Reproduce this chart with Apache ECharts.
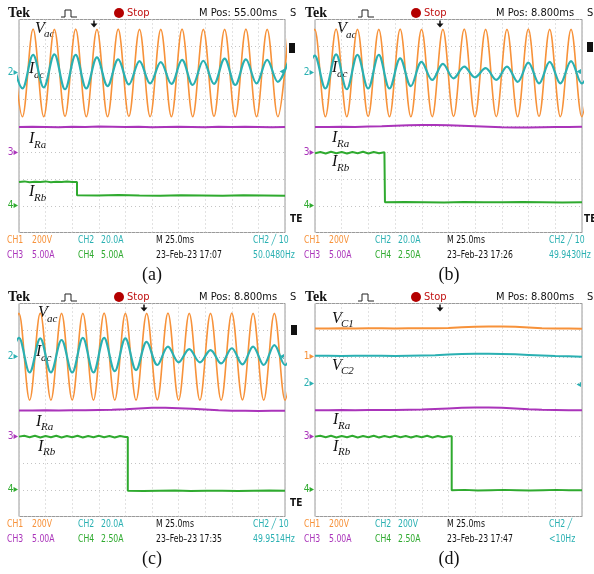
<!DOCTYPE html>
<meta charset="utf-8">
<title>Scope captures</title>
<style>
body { margin: 0; background: #fff; }
#main { width: 594px; height: 574px; }
</style>
<body>
<div id="main"></div>
<script src="https://cdn.jsdelivr.net/npm/echarts@6/dist/echarts.min.js"></script>
<script>
// all values are in screen divisions (x: 0..10 div, y: 0..8 div from bottom)
var HALF = 0.4;   // half period of the 50 Hz waves at 25 ms/div
var RIP = 0.2;    // spacing of ripple samples on I_Rb before the step
var STEP = 0.5;   // spacing of samples for the slow traces

// (a)
var vacT0A = -0.27;
var vacA = [7.63,4.35,7.64,4.35,7.63,4.36,7.64,4.35,7.63,4.35,7.64,4.36,7.63,4.35,7.63,4.35,7.64,4.35,7.63,4.36,7.63,4.35,7.64,4.35,7.63,4.35,7.63];
var iacA = [6.6,5.41,6.67,5.45,6.69,5.38,6.67,5.41,6.58,5.5,6.5,5.56,6.44,5.6,6.4,5.58,6.48,5.54,6.45,5.58,6.53,5.54,6.5,5.6,6.48,5.66,6.46];
var iraA = [3.96,3.97,3.96,3.95,3.97,3.96,3.98,3.97,3.96,3.97,3.95,3.96,3.97,3.96,3.95,3.97,3.96,3.97,3.96,3.95,3.96];
var irbPreA = [1.9,1.92,1.89,1.91,1.9,1.92,1.89,1.91,1.9,1.92,1.9];
var irbStepA = 2.18;
var irbPostA = [1.4,1.39,1.41,1.39,1.38,1.4,1.39,1.38,1.4,1.39,1.38];

// (b)
var vacT0B = -0.41;
var vacB = [4.35,7.63,4.35,7.64,4.35,7.63,4.36,7.63,4.35,7.64,4.35,7.63,4.35,7.63,4.36,7.64,4.35,7.63,4.35,7.63,4.35,7.64,4.36,7.63,4.35,7.63,4.35,7.63];
var iacB = [5.41,6.64,5.41,6.69,5.38,6.67,5.41,6.67,5.41,6.54,5.5,6.41,5.73,6.33,5.79,6.23,5.83,6.17,5.73,6.23,5.66,6.38,5.6,6.41,5.6,6.44,5.6,6.44];
var iraB = [3.96,3.96,3.97,3.96,3.98,3.99,4.01,4.03,4.04,4.04,4.03,4.01,3.99,3.97,3.95,3.94,3.94,3.95,3.96,3.96,3.97];
var irbPreB = [2.98,3.02,2.97,3.03,2.98,3.02,2.97,3.02,2.98,3.03,2.97,3.02,2.98,3.01];
var irbStepB = 2.62;
var irbPostB = [1.14,1.15,1.14,1.13,1.15,1.14,1.14,1.15,1.14,1.13,1.14];

// (c)
var vacT0C = -0.4;
var vacC = [4.37,7.63,4.37,7.64,4.37,7.63,4.38,7.63,4.37,7.64,4.37,7.63,4.37,7.63,4.38,7.64,4.37,7.63,4.37,7.63,4.37,7.64,4.38,7.63,4.37,7.63,4.37,7.63];
var iacC = [5.41,6.71,5.41,6.69,5.41,6.63,5.41,6.71,5.41,6.71,5.46,6.69,5.5,6.56,5.69,6.38,5.79,6.29,5.79,6.25,5.75,6.32,5.71,6.38,5.69,6.44,5.69,6.44];
var iraC = [3.98,3.98,3.99,3.98,3.99,3.99,4.0,4.01,4.03,4.06,4.08,4.08,4.07,4.05,4.02,3.99,3.97,3.97,3.96,3.97,3.97];
var irbPreC = [3.0,3.03,2.98,3.03,2.97,3.02,2.98,3.03,2.97,3.02,2.98,3.03,2.97,3.02,2.98,3.03,2.98,3.02,2.97,3.02,2.99];
var irbStepC = 4.09;
var irbPostC = [0.97,0.96,0.97,0.98,0.96,0.97,0.97,0.96,0.97,0.98,0.97];

// (d)
var vc1D = [7.06,7.06,7.07,7.06,7.07,7.07,7.06,7.07,7.07,7.07,7.08,7.11,7.13,7.14,7.14,7.13,7.1,7.07,7.06,7.06,7.05];
var vc2D = [6.04,6.04,6.03,6.04,6.04,6.04,6.03,6.04,6.05,6.06,6.08,6.1,6.11,6.11,6.1,6.09,6.07,6.05,6.03,6.02,6.0];
var iraD = [3.99,3.99,4.0,3.99,4.0,4.0,4.0,4.01,4.02,4.04,4.06,4.08,4.09,4.09,4.08,4.06,4.03,4.01,4.0,3.99,3.99];
var irbPreD = [3.0,3.03,2.98,3.03,2.97,3.02,2.98,3.03,2.97,3.02,2.98,3.03,2.97,3.02,2.98,3.03,2.98,3.02,2.97,3.02,2.98,3.03,2.97,3.02,2.98,3.01];
var irbStepD = 5.12;
var irbPostD = [0.99,1.0,0.98,0.99,1.0,0.99,0.98,0.99,1.0,0.99,0.99];

// texts
var captions = ['(a)', '(b)', '(c)', '(d)'];
var mpos = ['M Pos: 55.00ms', 'M Pos: 8.800ms', 'M Pos: 8.800ms', 'M Pos: 8.800ms'];
var ch2Scale = ['20.0A', '20.0A', '20.0A', '200V'];
var ch4Scale = ['5.00A', '2.50A', '2.50A', '2.50A'];
var dates = ['23\u2013Feb\u201323 17:07', '23\u2013Feb\u201323 17:26', '23\u2013Feb\u201323 17:35', '23\u2013Feb\u201323 17:47'];
var trigText = ['CH2 \u2571 10', 'CH2 \u2571 10', 'CH2 \u2571 10', 'CH2 \u2571'];
var freqs = ['50.0480Hz', '49.9430Hz', '49.9514Hz', '<10Hz'];

var ORANGE = '#F7923A', TEAL = '#2AB0B2', PURPLE = '#AA34BA', GREEN = '#2FAA2F';
var NARROW = '"Liberation Sans Narrow", "DejaVu Sans Condensed", sans-serif';
var SERIF = '"Liberation Serif", "DejaVu Serif", serif';
var SINE = 0.36;  // bezier smoothing that gives a sine-like curve through peaks

function wave(t0, vals) {
  return vals.map(function (v, i) { return [t0 + i * HALF, v]; });
}
function slow(vals) {
  return vals.map(function (v, i) { return [i * STEP, v]; });
}
function stepTrace(pre, tStep, post) {
  var pts = pre.map(function (v, i) { return [i * RIP, v]; });
  pts.push([tStep, pre[pre.length - 1]]);
  var n = post.length - 1;
  post.forEach(function (v, i) { pts.push([tStep + (10 - tStep) * i / n, v]); });
  return pts;
}

// layout of the four screens (px)
var screens = [
  { left: 19, top: 19.5, width: 266, height: 213, ox: 0, oy: 0 },
  { left: 315, top: 19.5, width: 267, height: 213, ox: 297, oy: 0 },
  { left: 19, top: 303.5, width: 266, height: 213, ox: 0, oy: 284 },
  { left: 315, top: 303.5, width: 267, height: 213, ox: 297, oy: 284 }
];
var markers = [
  { 6: ['2', 't'], 3: ['3', 'p'], 1: ['4', 'g'] },
  { 6: ['2', 't'], 3: ['3', 'p'], 1: ['4', 'g'] },
  { 6: ['2', 't'], 3: ['3', 'p'], 1: ['4', 'g'] },
  { 6: ['1', 'o'], 5: ['2', 't'], 3: ['3', 'p'], 1: ['4', 'g'] }
];

var grids = [], xAxes = [], yAxes = [], series = [], g = [];
var dotted = { color: '#c4c4c4', width: 1, type: [1, 3] };

screens.forEach(function (s, i) {
  grids.push({ left: s.left, top: s.top, width: s.width, height: s.height, show: true,
    borderColor: '#9a9a9a', borderWidth: 1, backgroundColor: '#fff' });
  xAxes.push({ type: 'value', gridIndex: i, min: 0, max: 10, interval: 1,
    axisLine: { show: false }, axisTick: { show: false }, axisLabel: { show: false },
    splitLine: { show: true, lineStyle: dotted } });
  yAxes.push({ type: 'value', gridIndex: i, min: 0, max: 8, interval: 1,
    axisLine: { show: false }, axisTick: { show: false },
    splitLine: { show: true, lineStyle: dotted },
    axisLabel: { margin: 1, formatter: (function (m) {
      return function (v) { return m[v] ? '{' + m[v][1] + '|' + m[v][0] + '\u25B8}' : ''; };
    })(markers[i]),
    rich: {
      o: { color: ORANGE, fontSize: 10, fontFamily: NARROW },
      t: { color: TEAL, fontSize: 10, fontFamily: NARROW },
      p: { color: PURPLE, fontSize: 10, fontFamily: NARROW },
      g: { color: GREEN, fontSize: 10, fontFamily: NARROW }
    } } });
});

function line(i, data, color, width, smooth) {
  series.push({ type: 'line', xAxisIndex: i, yAxisIndex: i, data: data, smooth: smooth,
    showSymbol: false, symbol: 'none', clip: true, silent: true,
    lineStyle: { color: color, width: width } });
}

line(0, wave(vacT0A, vacA), ORANGE, 1.6, SINE);
line(0, wave(vacT0A, iacA), TEAL, 2.2, SINE);
line(0, slow(iraA), PURPLE, 2, false);
line(0, stepTrace(irbPreA, irbStepA, irbPostA), GREEN, 2, false);

line(1, wave(vacT0B, vacB), ORANGE, 1.6, SINE);
line(1, wave(vacT0B, iacB), TEAL, 2.2, SINE);
line(1, slow(iraB), PURPLE, 2, false);
line(1, stepTrace(irbPreB, irbStepB, irbPostB), GREEN, 2, false);

line(2, wave(vacT0C, vacC), ORANGE, 1.6, SINE);
line(2, wave(vacT0C, iacC), TEAL, 2.2, SINE);
line(2, slow(iraC), PURPLE, 2, false);
line(2, stepTrace(irbPreC, irbStepC, irbPostC), GREEN, 2, false);

line(3, slow(vc1D), ORANGE, 2, false);
line(3, slow(vc2D), TEAL, 2, false);
line(3, slow(iraD), PURPLE, 2, false);
line(3, stepTrace(irbPreD, irbStepD, irbPostD), GREEN, 2, false);

function txt(x, y, text, font, color, align, sx) {
  g.push({ type: 'text', x: x, y: y, scaleX: sx || 1, silent: true,
    style: { text: text, font: font, fill: color, textAlign: align || 'left', textVerticalAlign: 'middle' } });
}
function sig(x, y, main, sub) {
  txt(x, y, main, 'italic 16px ' + SERIF, '#111');
  txt(x + (main === 'V' ? 9 : 5), y + 6, sub, 'italic 11px ' + SERIF, '#111');
}

var trigX = [94, 440, 144, 440];
var sBox = [[289, 43], [587, 42], [291, 325], null];
var teArrowY = [71.7, 71.7, 356, 384];
var FOOT = '10px ' + NARROW;
var SQ = 0.86; // footer text is condensed on the scope

screens.forEach(function (s, i) {
  var ox = s.ox, oy = s.oy;
  // header
  txt(8 + ox, 13 + oy, 'Tek', 'bold 14px ' + SERIF, '#111');
  g.push({ type: 'polyline', silent: true, shape: { points: [[61 + ox, 17 + oy], [65 + ox, 17 + oy], [65 + ox, 10 + oy], [71 + ox, 10 + oy], [71 + ox, 17 + oy], [77 + ox, 17 + oy]] },
    style: { stroke: '#222', lineWidth: 1, fill: null } });
  g.push({ type: 'circle', silent: true, shape: { cx: 119 + ox, cy: 13 + oy, r: 5 }, style: { fill: '#B40000' } });
  txt(127 + ox, 13 + oy, 'Stop', '11px ' + NARROW, '#C01010');
  txt(199 + ox, 13 + oy, mpos[i], '11px ' + NARROW, '#111');
  txt(290 + ox, 13 + oy, 'S', '11px ' + NARROW, '#111');
  // trigger position arrow
  var tx = trigX[i], ty = s.top;
  g.push({ type: 'line', silent: true, shape: { x1: tx, y1: ty + 1, x2: tx, y2: ty + 5 }, style: { stroke: '#111', lineWidth: 1.5 } });
  g.push({ type: 'polygon', silent: true, shape: { points: [[tx - 3.5, ty + 4], [tx + 3.5, ty + 4], [tx, ty + 8]] }, style: { fill: '#111' } });
  // right side bits
  if (sBox[i]) {
    g.push({ type: 'rect', silent: true, shape: { x: sBox[i][0], y: sBox[i][1], width: 6, height: 10 }, style: { fill: '#111' } });
    txt(290 + ox - (i === 1 ? 3 : 0), 219 + oy, 'TE', 'bold 10px ' + NARROW, '#111');
  }
  txt(s.left + s.width - 1, teArrowY[i], '\u25C2', '10px ' + NARROW, TEAL, 'right');
  // footer
  var r1 = 240 + oy, r2 = 255.5 + oy, mx = i % 2 ? 447 : 156, rx = i % 2 ? 549 : 253;
  txt(7 + ox, r1, 'CH1', FOOT, ORANGE, 'left', SQ);
  txt(32 + ox, r1, '200V', FOOT, ORANGE, 'left', SQ);
  txt(78 + ox, r1, 'CH2', FOOT, TEAL, 'left', SQ);
  txt(101 + ox, r1, ch2Scale[i], FOOT, TEAL, 'left', SQ);
  txt(mx, r1, 'M 25.0ms', FOOT, '#111', 'left', SQ);
  txt(rx, r1, trigText[i], FOOT, TEAL, 'left', SQ);
  txt(7 + ox, r2, 'CH3', FOOT, PURPLE, 'left', SQ);
  txt(32 + ox, r2, '5.00A', FOOT, PURPLE, 'left', SQ);
  txt(78 + ox, r2, 'CH4', FOOT, GREEN, 'left', SQ);
  txt(101 + ox, r2, ch4Scale[i], FOOT, GREEN, 'left', SQ);
  txt(mx, r2, dates[i], FOOT, '#111', 'left', SQ);
  txt(rx, r2, freqs[i], FOOT, TEAL, 'left', SQ);
  // caption
  txt(152 + ox, 275 + oy, captions[i], '18px ' + SERIF, '#111', 'center');
});

// signal names
sig(35, 28.5, 'V', 'ac'); sig(29, 69, 'I', 'ac'); sig(29, 139, 'I', 'Ra'); sig(29, 192, 'I', 'Rb');
sig(337, 29, 'V', 'ac'); sig(332, 68, 'I', 'ac'); sig(332, 138, 'I', 'Ra'); sig(332, 162, 'I', 'Rb');
sig(38, 313, 'V', 'ac'); sig(36, 352, 'I', 'ac'); sig(36, 421.5, 'I', 'Ra'); sig(38, 446.5, 'I', 'Rb');
sig(332, 318.5, 'V', 'C1'); sig(332, 365.5, 'V', 'C2'); sig(333, 420, 'I', 'Ra'); sig(333, 446.5, 'I', 'Rb');

var chart = echarts.init(document.getElementById('main'));
chart.setOption({
  animation: false,
  backgroundColor: '#fff',
  grid: grids,
  xAxis: xAxes,
  yAxis: yAxes,
  series: series,
  graphic: { elements: g }
});
</script>
</body>
